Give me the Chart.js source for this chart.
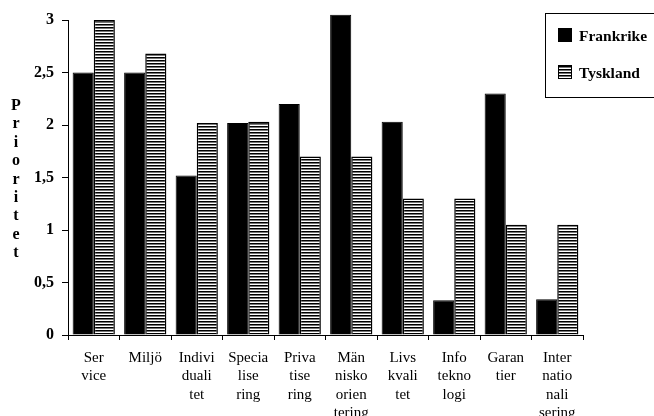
<!DOCTYPE html>
<html>
<head>
<meta charset="utf-8">
<script src="https://cdn.jsdelivr.net/npm/chart.js@4"></script>
<style>
  body { margin: 0; overflow: hidden; background: #fff; width: 654px; height: 416px; position: relative; }
  #c { position: absolute; left: 0; top: 0; }
  #ytitle { position: absolute; left: 8px; top: 96px; width: 16px; text-align: center;
    font: bold 16px "Liberation Serif", serif; line-height: 18.4px; color: #000; }
  #ytitle span { display: block; }
  #legend { position: absolute; left: 545px; top: 13px; width: 112px; height: 83px;
    border: 1px solid #000; font: bold 15.5px "Liberation Serif", serif; color: #000; }
  .item { position: absolute; left: 12px; height: 15px; line-height: 15px; white-space: nowrap; }
  .sw { display: inline-block; width: 14px; height: 14px; vertical-align: top; margin-right: 7px; border: 1px solid #000; box-sizing: border-box; }
</style>
</head>
<body>
<canvas id="c" width="654" height="436"></canvas>
<div id="ytitle"><span>P</span><span>r</span><span>i</span><span>o</span><span>r</span><span>i</span><span>t</span><span>e</span><span>t</span></div>
<div id="legend">
  <div class="item" style="top:14px"><span class="sw" style="background:#000"></span>Frankrike</div>
  <div class="item" style="top:51px"><span class="sw" style="background:repeating-linear-gradient(#000 0 1px, #777 1px 2px, #fff 2px 3px)"></span>Tyskland</div>
</div>
<script>
const categories = [
  ['Ser', 'vice'], ['Miljö'], ['Indivi', 'duali', 'tet'], ['Specia', 'lise', 'ring'],
  ['Priva', 'tise', 'ring'], ['Män', 'nisko', 'orien', 'tering'], ['Livs', 'kvali', 'tet'],
  ['Info', 'tekno', 'logi'], ['Garan', 'tier'], ['Inter', 'natio', 'nali', 'sering']
];
const frankrike = [2.5, 2.5, 1.52, 2.02, 2.2, 3.05, 2.03, 0.33, 2.3, 0.34];
const tyskland = [3.0, 2.68, 2.02, 2.03, 1.7, 1.7, 1.3, 1.3, 1.05, 1.05];
const yMin = 0, yMax = 3, yStep = 0.5;

const canvas = document.getElementById('c');
const ctx = canvas.getContext('2d');

// horizontal stripes for the second series
function stripes() {
  const p = document.createElement('canvas');
  p.width = 4; p.height = 3;
  const g = p.getContext('2d');
  g.fillStyle = '#fff'; g.fillRect(0, 0, 4, 3);
  g.fillStyle = '#000'; g.fillRect(0, 0, 4, 1);
  g.fillStyle = '#777'; g.fillRect(0, 1, 4, 1);
  return ctx.createPattern(p, 'repeat');
}

new Chart(ctx, {
  type: 'bar',
  data: {
    labels: categories,
    datasets: [
      { label: 'Frankrike', data: frankrike, backgroundColor: '#000', borderColor: '#000', borderWidth: 1, clip: false },
      { label: 'Tyskland', data: tyskland, backgroundColor: stripes(), borderColor: '#000', borderWidth: 1.5, clip: false }
    ]
  },
  options: {
    responsive: false,
    animation: false,
    categoryPercentage: 0.82,
    barPercentage: 1,
    layout: { padding: { top: 20, right: 71, left: 0, bottom: 0 } },
    plugins: { legend: { display: false }, tooltip: { enabled: false } },
    scales: {
      x: {
        grid: { drawOnChartArea: false, tickLength: 5, color: '#000', offset: true },
        border: { color: '#000', width: 1 },
        ticks: {
          color: '#000', autoSkip: false, maxRotation: 0, padding: 9,
          font: { family: 'Liberation Serif', size: 15, lineHeight: 1.22 }
        },
        afterFit(s) { s.height = 101; }
      },
      y: {
        min: yMin, max: yMax,
        grid: { drawOnChartArea: false, tickLength: 6, color: '#000' },
        border: { color: '#000', width: 1 },
        ticks: {
          stepSize: yStep, color: '#000', padding: 8,
          font: { family: 'Liberation Serif', size: 16, weight: 'bold' },
          callback: v => String(v).replace('.', ',')
        },
        afterFit(s) { s.width = 68; }
      }
    }
  }
});
</script>
</body>
</html>
